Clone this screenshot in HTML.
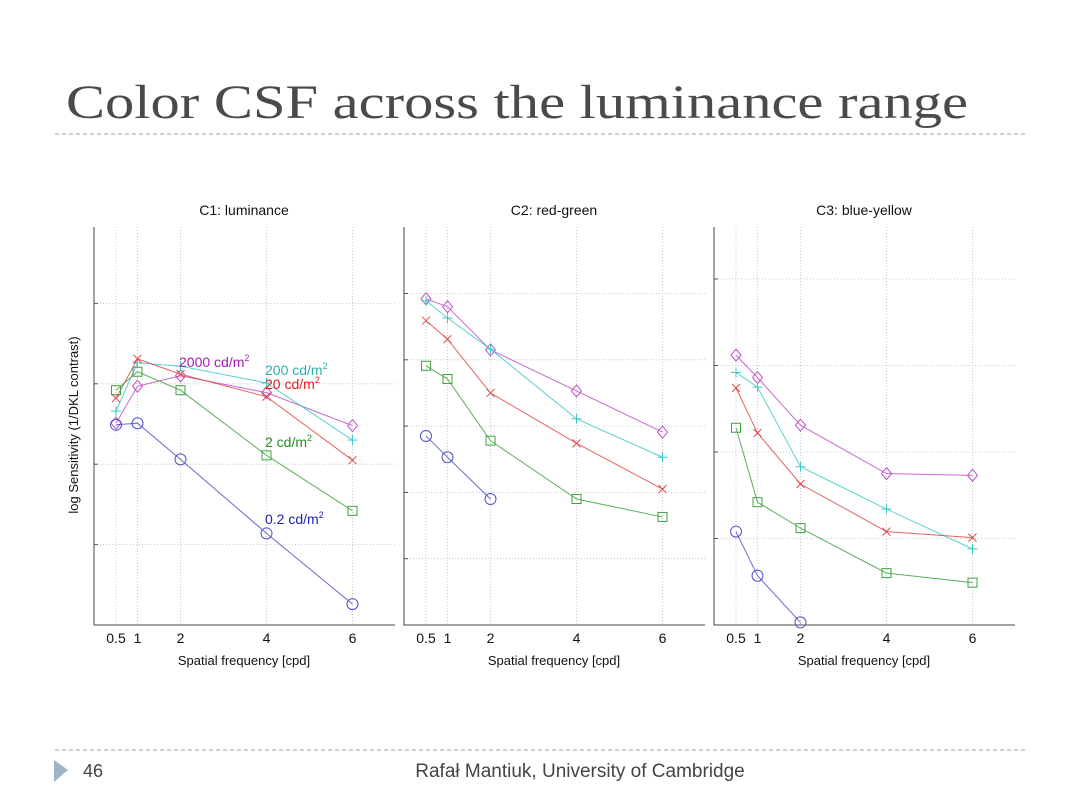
<!DOCTYPE html>
<html><head><meta charset="utf-8"><style>
html,body{margin:0;padding:0;background:#fff;}
svg{display:block;font-family:"Liberation Sans",sans-serif;}
</style></head><body>
<svg id="s" width="1080" height="810" viewBox="0 0 1080 810" xmlns="http://www.w3.org/2000/svg">
<text x="66" y="118" font-family="Liberation Serif, serif" font-size="48" fill="#4a4a4a" textLength="902" lengthAdjust="spacingAndGlyphs">Color CSF across the luminance range</text>
<line x1="55" y1="134" x2="1025" y2="134" stroke="#a8b8c0" stroke-width="1.2" stroke-dasharray="4,3"/>
<line x1="55" y1="750" x2="1025" y2="750" stroke="#a8b8c0" stroke-width="1.2" stroke-dasharray="4,3"/>
<polygon points="54,760 68,770 54,782" fill="#9fb3c5"/>
<text x="83" y="777" font-size="18" fill="#444">46</text>
<text x="580" y="777" font-size="19" fill="#444" text-anchor="middle">Rafał Mantiuk, University of Cambridge</text>
<text transform="translate(78,425) rotate(-90)" font-size="13" fill="#111" text-anchor="middle">log Sensitivity (1/DKL contrast)</text>
<g id="charts"></g>
</svg>
<script>
const freqs = [0.5, 1, 2, 4, 6];
const xTicks = [0.5, 1, 2, 4, 6];
const xTickLabels = ["0.5", "1", "2", "4", "6"];
const seriesNames = ["2000 cd/m2", "200 cd/m2", "20 cd/m2", "2 cd/m2", "0.2 cd/m2"];
const panelTitles = ["C1: luminance", "C2: red-green", "C3: blue-yellow"];
const c1_2000 = [2.51, 2.97, 3.10, 2.89, 2.48];
const c1_200  = [2.66, 3.26, 3.22, 3.01, 2.30];
const c1_20   = [2.82, 3.31, 3.12, 2.84, 2.05];
const c1_2    = [2.92, 3.15, 2.92, 2.11, 1.42];
const c1_02   = [2.49, 2.51, 2.06, 1.14, 0.26];
const c2_2000 = [4.92, 4.80, 4.15, 3.53, 2.91];
const c2_200  = [4.89, 4.63, 4.16, 3.11, 2.53];
const c2_20   = [4.59, 4.31, 3.50, 2.74, 2.05];
const c2_2    = [3.91, 3.71, 2.78, 1.90, 1.63];
const c2_02   = [2.85, 2.53, 1.90];
const c3_2000 = [3.12, 2.86, 2.31, 1.75, 1.73];
const c3_200  = [2.92, 2.75, 1.83, 1.34, 0.88];
const c3_20   = [2.74, 2.22, 1.63, 1.08, 1.01];
const c3_2    = [2.28, 1.42, 1.12, 0.60, 0.49];
const c3_02   = [1.08, 0.57, 0.03];

const NS = "http://www.w3.org/2000/svg";
const root = document.getElementById("charts");
function mk(tag, attrs, parent){const e=document.createElementNS(NS,tag);for(const k in attrs)e.setAttribute(k,attrs[k]);(parent||root).appendChild(e);return e;}
const colors = ["#c050c8","#40c8c8","#e04848","#40a040","#5050c8"];
const markers = ["diamond","plus","x","square","circle"];
const panels = [
 {left:94, unit:80.4, grids:[1,2,3,4], data:[c1_2000,c1_200,c1_20,c1_2,c1_02]},
 {left:404, unit:66.3, grids:[1,2,3,4,5], data:[c2_2000,c2_200,c2_20,c2_2,c2_02]},
 {left:714, unit:86.5, grids:[1,2,3,4], data:[c3_2000,c3_200,c3_20,c3_2,c3_02]}
];
const yBottom = 625, yTop = 227, xUnit = 43, xMax = 7;
function marker(g, t, x, y, c){
  if(t==="diamond") mk("polygon",{points:`${x},${y-6} ${x+5},${y} ${x},${y+6} ${x-5},${y}`,fill:"none",stroke:c},g);
  else if(t==="plus"){mk("line",{x1:x-5,y1:y,x2:x+5,y2:y,stroke:c},g);mk("line",{x1:x,y1:y-5,x2:x,y2:y+5,stroke:c},g);}
  else if(t==="x"){mk("line",{x1:x-4,y1:y-4,x2:x+4,y2:y+4,stroke:c},g);mk("line",{x1:x-4,y1:y+4,x2:x+4,y2:y-4,stroke:c},g);}
  else if(t==="square") mk("rect",{x:x-4.5,y:y-4.5,width:9,height:9,fill:"none",stroke:c},g);
  else mk("circle",{cx:x,cy:y,r:5.5,fill:"none",stroke:c},g);
}
panels.forEach((p,pi)=>{
  const sx = v => p.left + 0.5 + v*xUnit;
  const sy = v => yBottom - v*p.unit;
  const g = mk("g",{});
  
  
  const right = p.left + xMax*xUnit;
  p.grids.forEach(v=>{
    const l = mk("line",{x1:p.left,y1:sy(v),x2:right,y2:sy(v),stroke:"#bbb","stroke-width":0.8,"stroke-dasharray":"1,2"},g);
    
    
    mk("line",{x1:p.left,y1:sy(v),x2:p.left+4,y2:sy(v),stroke:"#555"},g);
  });
  xTicks.forEach((v,i)=>{
    const l = mk("line",{x1:sx(v),y1:yTop,x2:sx(v),y2:yBottom,stroke:"#bbb","stroke-width":0.8,"stroke-dasharray":"1,2"},g);
    
    
    const t = mk("text",{x:sx(v),y:643,"font-size":14,"text-anchor":"middle",fill:"#111"},g);
    t.textContent = xTickLabels[i];
    
    
  });
  const ax = mk("path",{d:`M${p.left},${yTop} V${yBottom} H${right}`,fill:"none",stroke:"#444","stroke-width":1},g);
  
  
  const tt = mk("text",{x:p.left+150,y:215,"font-size":14,"text-anchor":"middle",fill:"#111"},g);
  tt.textContent = panelTitles[pi];
  
  
  const xl = mk("text",{x:p.left+150,y:665,"font-size":13,"text-anchor":"middle",fill:"#111"},g);
  xl.textContent = "Spatial frequency [cpd]";
  
  
  p.data.forEach((vals,si)=>{
    const sg = mk("g",{},g);
    
    
    const pts = vals.map((v,i)=>sx(freqs[i])+","+sy(v)).join(" ");
    mk("polyline",{points:pts,fill:"none",stroke:colors[si],"stroke-width":1,opacity:0.85},sg);
    vals.forEach((v,i)=>marker(sg,markers[si],sx(freqs[i]),sy(v),colors[si]));
  });
});
const labels = [
 {t:"2000 cd/m",x:179,y:367,c:"#a020b0"},
 {t:"200 cd/m",x:265,y:375,c:"#30b0b0"},
 {t:"20 cd/m",x:265,y:389,c:"#e02020"},
 {t:"2 cd/m",x:265,y:447,c:"#209020"},
 {t:"0.2 cd/m",x:265,y:524,c:"#2020b0"}
];
labels.forEach(l=>{
  const t = mk("text",{x:l.x,y:l.y,"font-size":14,fill:l.c});
  t.textContent = l.t;
  const s = mk("tspan",{"font-size":9,dy:-6},t);
  s.textContent = "2";
  
  
});
</script>
</body></html>
